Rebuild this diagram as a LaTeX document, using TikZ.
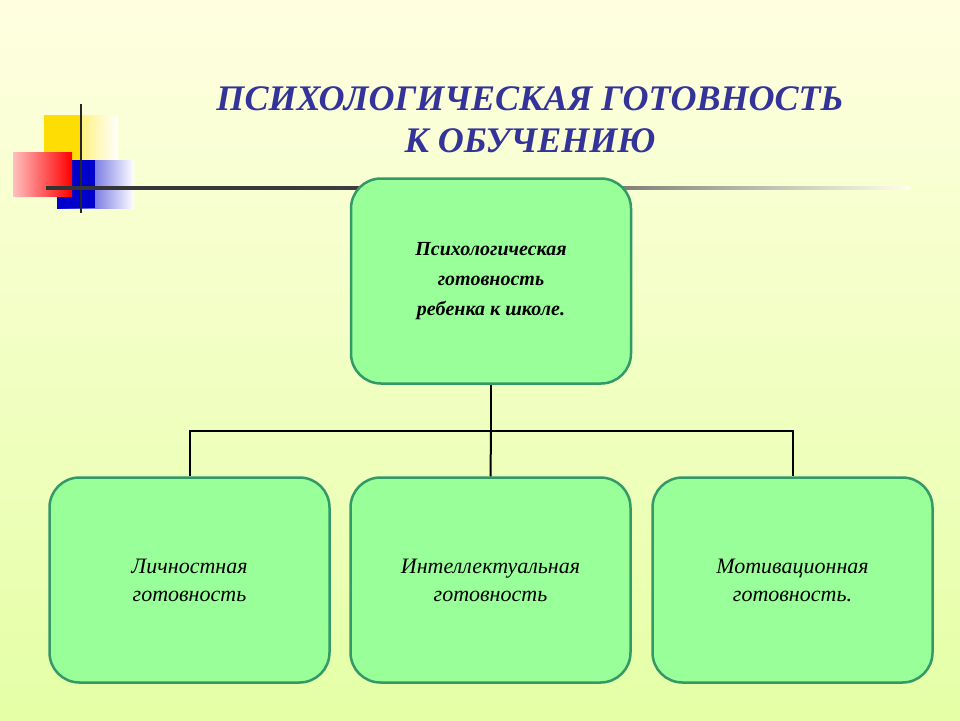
\documentclass[tikz,border=0pt]{standalone}
\usepackage{fontspec}
\setmainfont{Liberation Serif}
\usetikzlibrary{positioning}
\definecolor{boxfill}{HTML}{99FF99}
\definecolor{boxline}{HTML}{339966}
\definecolor{titleblue}{HTML}{333399}
\begin{document}
\begin{tikzpicture}[x=1pt,y=-1pt,font=\itshape\fontsize{22}{28}\selectfont]
% styles for the boxes
\tikzstyle{topic box}=[draw=boxline,line width=2.5pt,fill=boxfill,rounded corners=30,minimum width=280,minimum height=205,align=center];
\tikzstyle{link}=[line width=2pt,black];
% background
\shade[top color=white!40!yellow!20,bottom color=green!30!yellow!35](0,0)rectangle(960,720);
\useasboundingbox(0,0)rectangle(960,720);
% corner decoration
\shade[left color=yellow!80!orange,right color=white](44,115)rectangle(118,160);
\fill[yellow!80!orange](44,115)rectangle(80,160);
\shade[left color=blue!80!black,right color=white](57,160)rectangle(134,208);
\fill[blue!80!black](57,160)rectangle(95,208);
\shade[left color=red!25,right color=red](13,152)rectangle(72,196);
\draw[line width=2.5pt,black!85](81,104)--(81,213);
\shade[left color=black!80,right color=white!60!yellow!20,middle color=black!75](46,186.5)rectangle(910,189.5);
% title
\node(title)[text=titleblue,font=\bfseries\itshape\fontsize{36}{42}\selectfont,align=center]at(530,120)
{ПСИХОЛОГИЧЕСКАЯ ГОТОВНОСТЬ\\К ОБУЧЕНИЮ};
% boxes
\node(main)[topic box,font=\bfseries\itshape\fontsize{20}{30}\selectfont]at(491,281){Психологическая\\готовность\\ребенка к школе.};
\node(personal)[topic box]at(189.5,580){Личностная\\готовность};
\node(intellect)[topic box]at(490.5,580){Интеллектуальная\\готовность};
\node(motive)[topic box]at(792.5,580){Мотивационная\\готовность.};
% connectors
\coordinate(fork)at(main.south|-0,431);
\draw[link](main.south)--(fork);
\draw[link](personal.north)|-(fork)-|(motive.north);
\draw[link](fork)--(intellect.north);
\end{tikzpicture}
\end{document}
